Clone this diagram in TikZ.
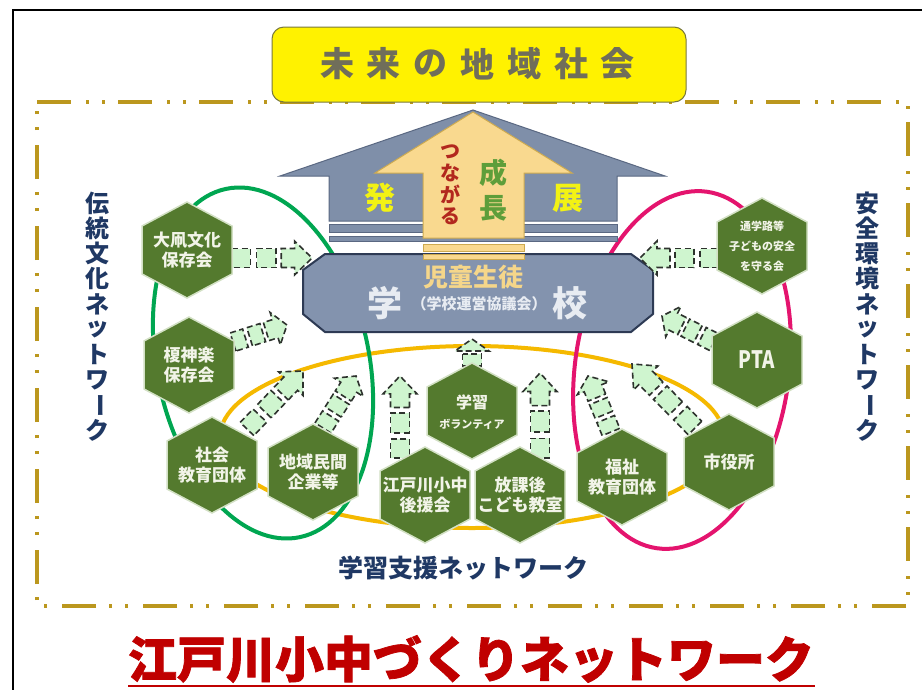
\documentclass[tikz,border=0pt]{standalone}
\usepackage{graphicx}
\usepackage{fontspec}
\setmainfont{Noto Sans CJK JP}
\newfontfamily\heavy{Noto Sans CJK JP}[FakeBold=1.5]
\usetikzlibrary{calc}
\definecolor{gold}{RGB}{187,151,30}
\definecolor{bannertext}{RGB}{112,110,90}
\definecolor{bannerline}{RGB}{120,120,60}
\definecolor{houseblue}{RGB}{127,143,169}
\definecolor{houseedge}{RGB}{90,104,130}
\definecolor{schoolfill}{RGB}{131,147,174}
\definecolor{schooledge}{RGB}{45,58,84}
\definecolor{arrowyel}{RGB}{249,217,143}
\definecolor{arrowedge}{RGB}{205,170,80}
\definecolor{tsunagared}{RGB}{178,40,30}
\definecolor{seichogreen}{RGB}{94,158,58}
\definecolor{hatten}{RGB}{242,242,20}
\definecolor{jidou}{RGB}{245,214,138}
\definecolor{schooltext}{RGB}{232,236,242}
\definecolor{hexfill}{RGB}{84,122,46}
\definecolor{hexedge}{RGB}{210,224,196}
\definecolor{hextext}{RGB}{242,244,232}
\definecolor{mint}{RGB}{207,245,207}
\definecolor{darkdash}{RGB}{45,50,45}
\definecolor{navy}{RGB}{31,56,100}
\definecolor{titlered}{RGB}{192,0,0}
\definecolor{ringgreen}{RGB}{0,166,81}
\definecolor{ringpink}{RGB}{228,20,110}
\definecolor{ringyellow}{RGB}{245,185,0}
\tikzset{
 hexshape/.style={fill=hexfill, draw=hexedge, line width=1.5pt},
 hexlabel/.style={text=hextext, font=\bfseries\fontsize{17}{20}\selectfont, align=center, inner sep=0pt},
 sarr/.style={fill=mint, draw=darkdash, line width=1.6pt, dash pattern=on 6pt off 3.5pt},
 ring/.style={line width=4pt},
 vtitle/.style={text=navy, font=\bfseries\fontsize{24}{24}\selectfont, inner sep=0pt},
 plain/.style={inner sep=0pt},
}
\newcommand\hexa[5][]{%
  \filldraw[hexshape] (#3,#4) +(0,-48) -- +(45,-24) -- +(45,24) -- +(0,48) -- +(-45,24) -- +(-45,-24) -- cycle;
  \node[hexlabel,#1] (#2) at (#3,#4) {#5};}
\newcommand\sarrow[4]{%
  \pgfmathsetmacro\sdx{#3-#1}%
  \pgfmathsetmacro\sdy{#2-#4}%
  \pgfmathsetmacro\sang{atan2(\sdy,\sdx)}%
  \pgfmathsetmacro\slen{veclen(\sdx,\sdy)}%
  \pgfmathsetmacro\sk{\slen/78}%
  \begin{scope}[shift={(#1,#2)}, rotate=\sang, x=\sk pt, y=1pt]
    \filldraw[sarr] (0,-9.5) rectangle (18,9.5);
    \filldraw[sarr] (24,-9.5) rectangle (43,9.5);
    \filldraw[sarr] (48,-9.5) -- (61,-9.5) -- (61,-17) -- (78,0) -- (61,17) -- (61,9.5) -- (48,9.5) -- cycle;
  \end{scope}}
\begin{document}
\begin{tikzpicture}[x=1pt,y=-1pt]
\useasboundingbox (0,0) rectangle (922,689);
\fill[white] (0,0) rectangle (922,689);
% outer frame
\draw[line width=2.7pt] (13,700) -- (13,10) -- (930,10);
% dashed border
\draw[gold, line width=3.4pt, dash pattern=on 34pt off 15pt on 3pt off 13pt on 3pt off 13pt] (37,102) -- (908,102) -- (908,606) -- (37,606) -- cycle;
% banner
\draw[rounded corners=12pt, fill=yellow, draw=bannerline, line width=1pt] (272,27) rectangle (686,102);
\foreach \c [count=\i] in {未,来,の,地,域,社,会}
  \node[plain, text=bannertext, font=\bfseries\fontsize{34}{34}\selectfont] (ban\i) at ({337+(\i-1)*46.8},64) {\c};
% rings
\draw[ring, ringyellow] (472,437) ellipse [x radius=252, y radius=91];
\draw[ring, ringgreen, rotate around={12:(263,363)}] (263,363) ellipse [x radius=106, y radius=178];
\draw[ring, ringpink, rotate around={-8:(682,370)}] (682,370) ellipse [x radius=107, y radius=180];
% house
\filldraw[fill=houseblue, draw=houseedge, line width=1pt] (473,110) -- (665,176) -- (617,176) -- (617,221) -- (329,221) -- (329,176) -- (280,176) -- cycle;
\filldraw[fill=houseblue, draw=houseedge, line width=0.8pt] (329,224) rectangle (617,232);
\filldraw[fill=houseblue, draw=houseedge, line width=0.8pt] (329,236) rectangle (617,241);
% school
\filldraw[fill=schoolfill, draw=schooledge, line width=2pt] (325,254) -- (631,254) -- (653,270) -- (653,314) -- (631,332) -- (325,332) -- (303,314) -- (303,270) -- cycle;
% big arrow
\filldraw[fill=arrowyel, draw=arrowedge, line width=1pt] (473,112) -- (572,173) -- (524,173) -- (524,238) -- (423,238) -- (423,173) -- (375,173) -- cycle;
\filldraw[fill=arrowyel, draw=arrowedge, line width=0.8pt] (423,244) rectangle (524,251);
\filldraw[fill=arrowyel, draw=arrowedge, line width=0.8pt] (423,254) rectangle (524,259);
% arrow texts
\foreach \c [count=\i] in {つ,な,が,る}
  \node[plain, text=tsunagared, font=\bfseries\fontsize{20}{20}\selectfont] (tsu\i) at (450,{152+(\i-1)*21.3}) {\c};
\node[plain, text=seichogreen, font=\bfseries\fontsize{28}{28}\selectfont] (sei) at (493,173) {成};
\node[plain, text=seichogreen, font=\bfseries\fontsize{28}{28}\selectfont] (cho) at (493,208) {長};
\node[plain, text=hatten, font=\bfseries\fontsize{31}{31}\selectfont] (hat) at (380,198) {発};
\node[plain, text=hatten, font=\bfseries\fontsize{31}{31}\selectfont] (ten) at (568,198) {展};
% school texts
\node[plain, text=jidou, font=\bfseries\fontsize{25}{25}\selectfont] (jid) at (473,277) {児童生徒};
\node[plain, text=schooltext, font=\bfseries\fontsize{35}{35}\selectfont] (gak) at (385,303) {学};
\node[plain, text=schooltext, font=\bfseries\fontsize{35}{35}\selectfont] (kou) at (570,303) {校};
\node[plain, text=schooltext, font=\bfseries\fontsize{15}{15}\selectfont] (kyo) at (479,304) {（学校運営協議会）};
% striped arrows
\sarrow{232}{258}{312}{258}
\sarrow{233}{342}{287}{325}
\sarrow{247}{429}{303}{371}
\sarrow{323}{428}{356}{376}
\sarrow{400}{458}{400}{376}
\sarrow{540}{458}{540}{373}
\sarrow{611}{432}{588}{376}
\sarrow{695}{428}{632}{364}
\sarrow{714}{342}{662}{316}
\sarrow{718}{258}{640}{258}
\filldraw[sarr] (462.5,354) rectangle (481.5,366);
\filldraw[sarr] (462.5,351) -- (455,351) -- (472,339) -- (489,351) -- (481.5,351) -- cycle;
% hexagons
\hexa{taiko}{187}{250}{大凧文化\\保存会}
\hexa{kagura}{189}{365}{榎神楽\\保存会}
\hexa{shakai}{212}{465}{社会\\教育団体}
\hexa{minkan}{313}{472}{地域民間\\企業等}
\hexa{volun}{472}{411}{}
\node[plain, text=hextext, font=\bfseries\fontsize{16}{16}\selectfont] (vol1) at (472,402) {学習};
\node[plain, text=hextext, font=\bfseries\fontsize{11}{11}\selectfont] (vol2) at (472,424) {ボランティア};
\hexa{kouen}{425}{495}{江戸川小中\\後援会}
\hexa{houka}{520}{495}{放課後\\こども教室}
\hexa{fukushi}{622}{477}{福祉\\教育団体}
\hexa{shiya}{729}{462}{市役所}
\hexa[font=\bfseries\fontsize{24}{24}\selectfont]{pta}{757}{360}{\scalebox{0.78}[1]{PTA}}
\hexa[font=\bfseries\fontsize{11}{20}\selectfont]{tsugaku}{762}{246}{通学路等\\子どもの安全\\を守る会}
% side titles
\foreach \c [count=\i] in {伝,統,文,化,ネ,ッ,ト,ワ,{\rotatebox[origin=c]{-90}{ー}},ク}
  \node[vtitle] (lt\i) at (97,{203+(\i-1)*25.3}) {\c};
\foreach \c [count=\i] in {安,全,環,境,ネ,ッ,ト,ワ,{\rotatebox[origin=c]{-90}{ー}},ク}
  \node[vtitle] (rt\i) at (867,{203+(\i-1)*25.3}) {\c};
% bottom network title
\node[plain, text=navy, font=\bfseries\fontsize{25}{25}\selectfont] (gakushu) at (463,568) {学習支援ネットワーク};
% main title
\node[plain, text=titlered, font=\heavy\bfseries\fontsize{49}{49}\selectfont] (title) at (471,659) {江戸川小中づくりネットワーク};
\draw[titlered, line width=1.2pt] (128,686) -- (815,686);
\end{tikzpicture}
\end{document}
